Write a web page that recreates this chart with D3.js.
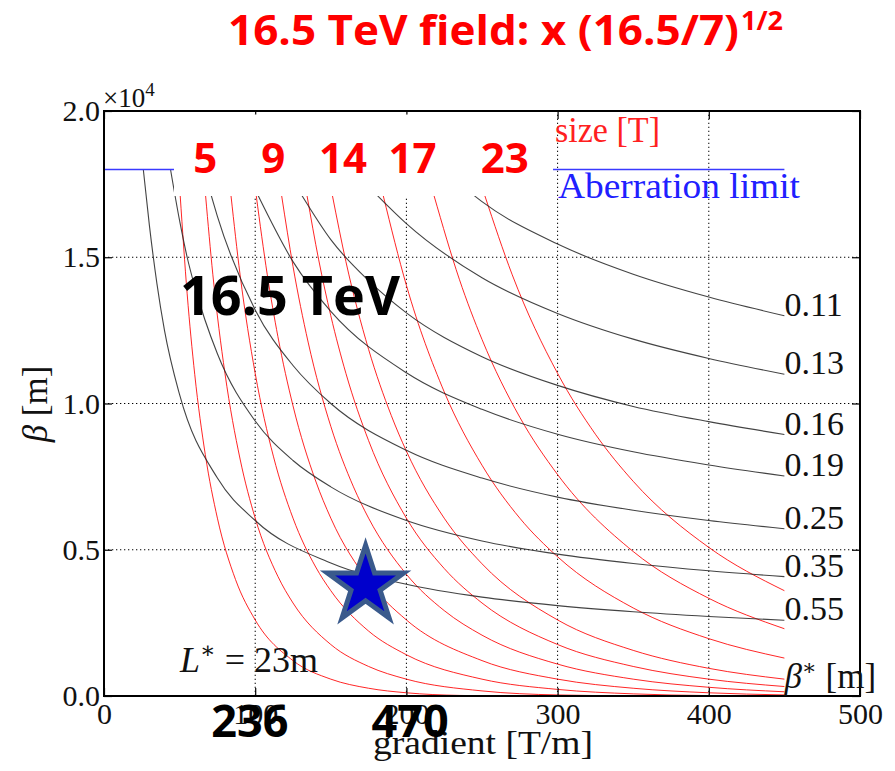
<!DOCTYPE html>
<html>
<head>
<meta charset="utf-8">
<script src="https://cdn.jsdelivr.net/npm/d3@7"></script>
<style>
body { margin: 0; background: #fff; }
svg { display: block; }
.cm { font-family: "Liberation Serif", "DejaVu Serif", serif; }
.bold { font-family: "Open Sans", "Lato", sans-serif; font-weight: bold; }
</style>
</head>
<body>
<div id="chart"></div>
<script>
// beta-max vs gradient, one list of [gradient, beta] per beta* value
const beta055 = [[26, 18000], [30, 16100], [35, 14100], [40, 12500], [50, 10300], [75, 7450], [100, 6000], [150, 4550], [200, 3820], [250, 3380], [300, 3090], [350, 2880], [400, 2720], [450, 2590]];
const beta035 = [[44, 18000], [50, 16250], [55, 15000], [60, 14000], [75, 11700], [100, 9400], [125, 8050], [150, 7150], [200, 6000], [250, 5300], [300, 4850], [350, 4530], [400, 4280], [450, 4080]];
const beta025 = [[71, 17100], [75, 16400], [100, 13200], [125, 11300], [150, 10000], [200, 8400], [250, 7450], [300, 6800], [350, 6350], [400, 6000], [450, 5720]];
const beta019 = [[102, 17100], [125, 14850], [150, 13150], [200, 11050], [250, 9800], [300, 8950], [350, 8350], [400, 7900], [450, 7520]];
const beta016 = [[131, 17100], [150, 15600], [175, 14200], [200, 13100], [250, 11600], [300, 10620], [350, 9900], [400, 9380], [450, 8940]];
const beta013 = [[181, 17100], [200, 16150], [250, 14300], [300, 13080], [350, 12200], [400, 11540], [450, 11000]];
const beta011 = [[245, 17100], [250, 16900], [300, 15450], [350, 14420], [400, 13640], [450, 13000]];
const betaStarLabels = ["0.11", "0.13", "0.16", "0.19", "0.25", "0.35", "0.55"];

// pole tip field curves
const field3 = [[50.4, 17100], [55, 13750], [60, 11000], [67, 8250], [75, 6080], [87, 3980], [100, 2600], [125, 1210], [150, 576], [175, 265], [200, 110], [235, 20], [270, 0]];
const field4 = [[67.2, 17100], [72, 14400], [80, 11030], [90, 8100], [100, 6080], [115, 4090], [125, 3180], [150, 1760], [175, 1010], [200, 576], [250, 174], [300, 36], [360, 0]];
const field5 = [[84, 17100], [90, 14400], [100, 11030], [112, 8200], [125, 6080], [140, 4410], [150, 3600], [175, 2220], [200, 1410], [250, 576], [300, 225], [350, 73], [400, 14], [450, 0]];
const field6 = [[100.7, 17100], [108, 14400], [115, 12290], [125, 9920], [140, 7350], [150, 6080], [175, 3920], [200, 2600], [250, 1210], [300, 576], [350, 265], [400, 110], [450, 36]];
const field7 = [[117.5, 17100], [125, 14690], [135, 12100], [150, 9220], [165, 7150], [175, 6080], [200, 4160], [225, 2920], [250, 2080], [300, 1090], [350, 576], [400, 298], [450, 144]];
const field8 = [[134.3, 17100], [142, 14910], [150, 13000], [160, 11030], [175, 8730], [200, 6080], [225, 4360], [250, 3180], [300, 1760], [350, 1010], [400, 576], [450, 324]];
const field9 = [[151.1, 17100], [160, 14850], [175, 11850], [190, 9590], [200, 8370], [225, 6080], [250, 4520], [300, 2600], [350, 1560], [400, 946], [450, 576]];
const field11 = [[184.7, 17100], [200, 14040], [225, 10400], [250, 7890], [275, 6080], [300, 4760], [350, 3010], [400, 1960], [450, 1296]];
const field13 = [[218.3, 17100], [235, 14250], [250, 12190], [275, 9530], [300, 7570], [350, 4940], [400, 3340], [450, 2300]];
const field15 = [[251.9, 17100], [270, 14400], [300, 11030], [325, 8950], [350, 7340], [400, 5080], [450, 3600]];

const aberrationLimit = [[0, 18000], [450, 18000]];
const fieldLabels = ["5", "9", "14", "17", "23"];
const fieldLabelG = [67, 112, 158, 204, 265];
const gradientLabels = ["236", "470"];
const gradientLabelG = [96.5, 202.5];
const starPoint = [173, 3780];

const xTicks = [0, 100, 200, 300, 400, 500];
const yTicks = [0, 5000, 10000, 15000, 20000];

const svg = d3.select("#chart").append("svg")
    .attr("width", 895)
    .attr("height", 771);

const x = d3.scaleLinear().domain([0, 500]).range([104, 860]);
const y = d3.scaleLinear().domain([0, 20000]).range([696, 111]);

svg.append("clipPath").attr("id", "plot")
    .append("rect")
    .attr("x", 104).attr("y", 111)
    .attr("width", 756).attr("height", 585);

// dotted grid
const grid = svg.append("g")
    .attr("stroke", "#000")
    .attr("stroke-width", 1)
    .attr("stroke-dasharray", "1.3,2.7");
grid.selectAll(".gx")
    .data(xTicks.slice(1, -1))
    .join("line")
    .attr("x1", d => x(d)).attr("x2", d => x(d))
    .attr("y1", y(0)).attr("y2", y(20000));
grid.selectAll(".gy")
    .data(yTicks.slice(1, -1))
    .join("line")
    .attr("y1", d => y(d)).attr("y2", d => y(d))
    .attr("x1", x(0)).attr("x2", x(500));

const line = d3.line()
    .x(d => x(d[0]))
    .y(d => y(d[1]))
    .curve(d3.curveMonotoneX);

const curves = svg.append("g").attr("clip-path", "url(#plot)").attr("fill", "none");

// red field curves
const fieldCurves = [field3, field4, field5, field6, field7, field8, field9, field11, field13, field15];
curves.selectAll(".red")
    .data(fieldCurves)
    .join("path")
    .attr("stroke", "#ff0000")
    .attr("stroke-opacity", 0.85)
    .attr("stroke-width", 1)
    .attr("d", line);

// black beta* curves
const betaCurves = [beta011, beta013, beta016, beta019, beta025, beta035, beta055];
curves.selectAll(".black")
    .data(betaCurves)
    .join("path")
    .attr("stroke", "#222")
    .attr("stroke-opacity", 0.85)
    .attr("stroke-width", 1.1)
    .attr("d", line);

// aberration limit
curves.append("path")
    .datum(aberrationLimit)
    .attr("stroke", "#3a3aff")
    .attr("stroke-width", 1.5)
    .attr("d", d3.line().x(d => x(d[0])).y(d => y(d[1])));

// axes
const fmtY = d => (d / 10000).toFixed(1);
svg.append("g")
    .attr("transform", `translate(0, ${y(0)})`)
    .call(d3.axisBottom(x).tickValues(xTicks).tickSizeInner(-8).tickSizeOuter(0).tickPadding(7));
svg.append("g")
    .attr("transform", `translate(${x(0)}, 0)`)
    .call(d3.axisLeft(y).tickValues(yTicks).tickFormat(fmtY).tickSizeInner(-8).tickSizeOuter(0).tickPadding(4));
svg.append("g")
    .attr("transform", `translate(0, ${y(20000)})`)
    .call(d3.axisTop(x).tickValues(xTicks).tickFormat("").tickSizeInner(-8).tickSizeOuter(0));
svg.append("g")
    .attr("transform", `translate(${x(500)}, 0)`)
    .call(d3.axisRight(y).tickValues(yTicks).tickFormat("").tickSizeInner(-8).tickSizeOuter(0));
svg.selectAll(".domain").remove();
svg.selectAll(".tick line").attr("stroke", "#000").attr("stroke-width", 1.2);
svg.selectAll(".tick text")
    .attr("class", "cm")
    .attr("font-family", null)
    .attr("font-size", 30)
    .attr("fill", "#111");

svg.append("rect")
    .attr("x", x(0)).attr("y", y(20000))
    .attr("width", x(500) - x(0)).attr("height", y(0) - y(20000))
    .attr("fill", "none")
    .attr("stroke", "#000")
    .attr("stroke-width", 2);

// x10^4
const mult = svg.append("text").attr("class", "cm").attr("x", 103).attr("y", 107)
    .attr("font-size", 27).attr("fill", "#111");
mult.append("tspan").text("×10");
mult.append("tspan").attr("dy", -11).attr("font-size", 19).text("4");

// axis titles
svg.append("text").attr("class", "cm")
    .attr("x", 373).attr("y", 754)
    .attr("font-size", 33).attr("fill", "#111")
    .attr("textLength", 220).attr("lengthAdjust", "spacingAndGlyphs")
    .text("gradient [T/m]");
const yTitle = svg.append("text").attr("class", "cm")
    .attr("transform", "translate(47, 404) rotate(-90)")
    .attr("text-anchor", "middle")
    .attr("font-size", 35).attr("fill", "#111");
yTitle.append("tspan").attr("font-style", "italic").text("β");
yTitle.append("tspan").text(" [m]");

// beta* labels at the curve ends
svg.selectAll(".bslab")
    .data(betaCurves)
    .join("text")
    .attr("class", "cm")
    .attr("x", d => x(d[d.length - 1][0]))
    .attr("y", d => y(d[d.length - 1][1]))
    .attr("font-size", 34)
    .attr("fill", "#111")
    .text((d, i) => betaStarLabels[i]);
const bsUnit = svg.append("text").attr("class", "cm")
    .attr("x", x(450)).attr("y", 688)
    .attr("font-size", 35).attr("fill", "#111");
bsUnit.append("tspan").attr("font-style", "italic").text("β");
bsUnit.append("tspan").attr("dy", -13).attr("font-size", 22).text("∗");
bsUnit.append("tspan").attr("dy", 13).text(" [m]");

const lstar = svg.append("text").attr("class", "cm")
    .attr("x", 180).attr("y", 672)
    .attr("font-size", 36).attr("fill", "#111");
lstar.append("tspan").attr("font-style", "italic").text("L");
lstar.append("tspan").attr("dy", -14).attr("font-size", 23).text("∗");
lstar.append("tspan").attr("dy", 14).text(" = 23m");

// text for the red and blue curves
svg.append("text").attr("class", "cm")
    .attr("x", 255).attr("y", 142)
    .attr("font-size", 34).attr("fill", "#ff2020")
    .attr("textLength", 285).attr("lengthAdjust", "spacingAndGlyphs")
    .text("B field at pole tip");
svg.append("text").attr("class", "cm")
    .attr("x", 555).attr("y", 142)
    .attr("font-size", 36).attr("fill", "#ff2020")
    .attr("textLength", 105).attr("lengthAdjust", "spacingAndGlyphs")
    .text("size [T]");
svg.append("text").attr("class", "cm")
    .attr("x", 558).attr("y", 198)
    .attr("font-size", 35).attr("fill", "#2020ff")
    .attr("textLength", 242).attr("lengthAdjust", "spacingAndGlyphs")
    .text("Aberration limit");

// white patch with the scaled field values
svg.append("rect")
    .attr("x", 174).attr("y", 114.5)
    .attr("width", 379).attr("height", 81.5)
    .attr("fill", "#fff");
svg.selectAll(".flab")
    .data(fieldLabels)
    .join("text")
    .attr("class", "bold")
    .attr("x", (d, i) => x(fieldLabelG[i]))
    .attr("y", 173)
    .attr("text-anchor", "middle")
    .attr("font-size", 42)
    .attr("fill", "#ff0000")
    .text(d => d);

// title
svg.append("text").attr("class", "bold")
    .attr("x", 228).attr("y", 45)
    .attr("font-size", 42).attr("fill", "#ff0000")
    .attr("textLength", 511).attr("lengthAdjust", "spacingAndGlyphs")
    .text("16.5 TeV field: x (16.5/7)");
svg.append("text").attr("class", "bold")
    .attr("x", 741).attr("y", 30)
    .attr("font-size", 27).attr("fill", "#ff0000")
    .attr("textLength", 42).attr("lengthAdjust", "spacingAndGlyphs")
    .text("1/2");

// big black annotations
svg.append("text").attr("class", "bold")
    .attr("x", 180).attr("y", 315)
    .attr("font-size", 53).attr("fill", "#000")
    .attr("textLength", 220).attr("lengthAdjust", "spacingAndGlyphs")
    .text("16.5 TeV");
svg.selectAll(".glab")
    .data(gradientLabels)
    .join("text")
    .attr("class", "bold")
    .attr("x", (d, i) => x(gradientLabelG[i]))
    .attr("y", 737)
    .attr("text-anchor", "middle")
    .attr("font-size", 45)
    .attr("fill", "#000")
    .text(d => d);

// star
svg.append("path")
    .attr("transform", `translate(${x(starPoint[0])}, ${y(starPoint[1])})`)
    .attr("d", d3.symbol(d3.symbolStar, 1800)())
    .attr("fill", "#0000cc")
    .attr("stroke", "#3a5a8c")
    .attr("stroke-width", 5)
    .attr("stroke-linejoin", "miter");
</script>
</body>
</html>
